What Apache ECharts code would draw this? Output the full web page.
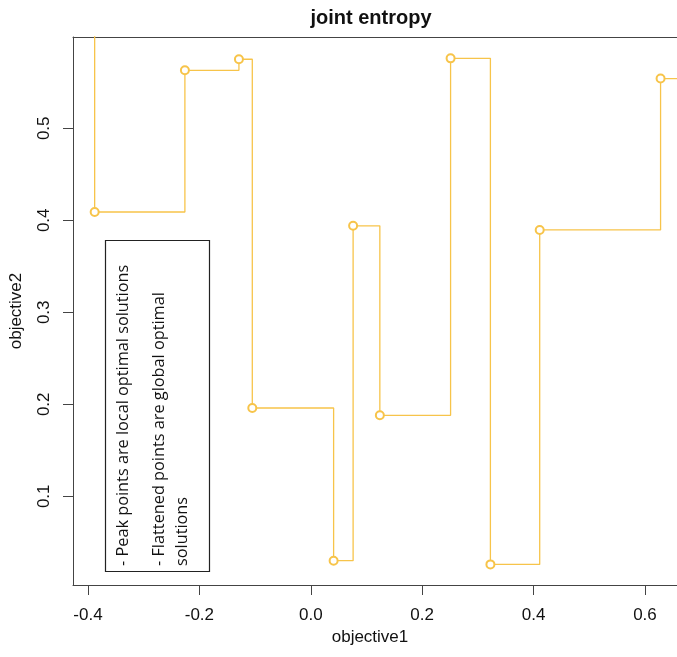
<!DOCTYPE html>
<html>
<head>
<meta charset="utf-8">
<script src="https://cdn.jsdelivr.net/npm/echarts@6/dist/echarts.min.js"></script>
<style>html,body{margin:0;padding:0;background:#fff}#c{width:677px;height:657px}</style>
</head>
<body>
<div id="c"></div>
<script>
// objective1 (x) and objective2 (y) of the step path, in drawing order
const objective1 = [-0.45, -0.388, -0.226, -0.129, -0.105, 0.041, 0.076, 0.124, 0.251, 0.3225, 0.411, 0.628, 0.69];
const objective2 = [0.65, 0.409, 0.563, 0.575, 0.196, 0.030, 0.394, 0.188, 0.576, 0.026, 0.3895, 0.554, 0.30];
const xTicks = [-0.4, -0.2, 0.0, 0.2, 0.4, 0.6];
const yTicks = [0.1, 0.2, 0.3, 0.4, 0.5];
const titleText = 'joint entropy';
const xName = 'objective1';
const yName = 'objective2';
const noteLines = ['- Peak points are local optimal solutions', '- Flattened points are global optimal', 'solutions'];

const pts = objective1.map((x, i) => [x, objective2[i]]);
const lineColor = '#F7C44A';
const axisColor = '#444';
const xMin = -0.4269, xMax = 0.6575;
const chart = echarts.init(document.getElementById('c'), null, {renderer: 'canvas'});
chart.setOption({
  animation: false,
  backgroundColor: '#fff',
  grid: {left: 73, top: 37, right: 0, bottom: 72, show: false},
  xAxis: [{
    type: 'value', min: xMin, max: xMax, position: 'bottom',
    axisLine: {show: true, onZero: false, lineStyle: {color: axisColor, width: 1}},
    splitLine: {show: false},
    axisTick: {show: true, length: 10, lineStyle: {color: axisColor}, customValues: xTicks},
    axisLabel: {customValues: xTicks, margin: 22, fontSize: 17, color: '#111', fontFamily: 'Liberation Sans',
      formatter: v => v.toFixed(1)}
  }, {
    type: 'value', min: xMin, max: xMax, position: 'top',
    axisLine: {show: true, onZero: false, lineStyle: {color: axisColor, width: 1}},
    splitLine: {show: false}, axisTick: {show: false}, axisLabel: {show: false}
  }],
  yAxis: {
    type: 'value', min: 0.0036, max: 0.5992, position: 'left',
    name: yName, nameLocation: 'middle', nameGap: 48, nameRotate: 90,
    nameTextStyle: {fontSize: 17, color: '#111', fontFamily: 'Liberation Sans'},
    axisLine: {show: true, onZero: false, lineStyle: {color: axisColor, width: 1}},
    splitLine: {show: false},
    axisTick: {show: true, length: 10, lineStyle: {color: axisColor}, customValues: yTicks},
    axisLabel: {customValues: yTicks, rotate: 90, margin: 20, fontSize: 17, color: '#111', fontFamily: 'Liberation Sans',
      formatter: v => v.toFixed(1)}
  },
  series: [{
    type: 'line', data: pts, step: 'end', clip: true, xAxisIndex: 0,
    showAllSymbol: true, symbol: 'emptyCircle', symbolSize: 8,
    lineStyle: {color: lineColor, width: 1.3},
    itemStyle: {color: lineColor, borderColor: lineColor, borderWidth: 1.1}
  }],
  graphic: [
    {type: 'text', x: 371, y: 18, style: {text: titleText, font: 'bold 20px "Liberation Sans"', fill: '#111', textAlign: 'center', textVerticalAlign: 'middle', align: 'center', verticalAlign: 'middle'}},
    {type: 'text', x: 370, y: 637, style: {text: xName, font: '17px "Liberation Sans"', fill: '#111', textAlign: 'center', textVerticalAlign: 'middle', align: 'center', verticalAlign: 'middle'}},
    {type: 'rect', shape: {x: 105.5, y: 240.5, width: 104, height: 331}, style: {fill: 'none', stroke: '#222', lineWidth: 1.2}},
    {type: 'text', x: 123, y: 566, rotation: Math.PI / 2, style: {text: noteLines[0], font: '16.3px "Open Sans"', fill: '#111', textAlign: 'left', textVerticalAlign: 'middle', align: 'left', verticalAlign: 'middle'}},
    {type: 'text', x: 159, y: 566, rotation: Math.PI / 2, style: {text: noteLines[1], font: '16.3px "Open Sans"', fill: '#111', textAlign: 'left', textVerticalAlign: 'middle', align: 'left', verticalAlign: 'middle'}},
    {type: 'text', x: 182, y: 566, rotation: Math.PI / 2, style: {text: noteLines[2], font: '16.3px "Open Sans"', fill: '#111', textAlign: 'left', textVerticalAlign: 'middle', align: 'left', verticalAlign: 'middle'}}
  ]
});
</script>
</body>
</html>
